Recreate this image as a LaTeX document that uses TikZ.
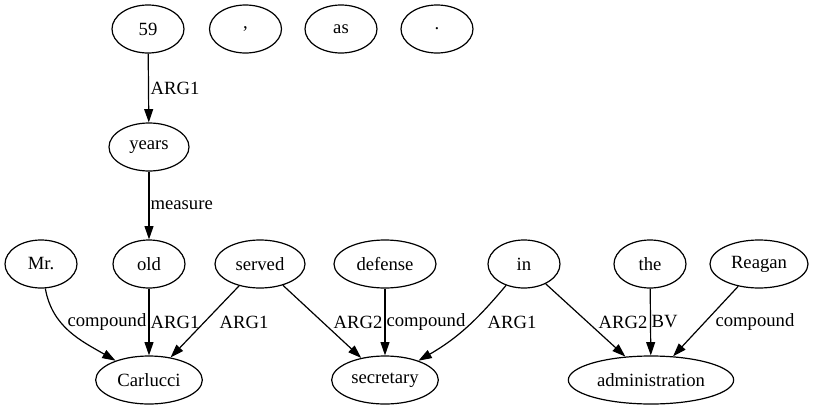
\documentclass[tikz,border=0pt]{standalone}
\usepackage{fontspec}
\setmainfont{Liberation Serif}
\usepackage{tikz}
\usetikzlibrary{shapes.geometric, arrows.meta}

\begin{document}
\begin{tikzpicture}[x=0.75pt, y=-0.75pt,
    tok/.style={ellipse, draw, line width=0.9pt, inner sep=0pt,
                minimum width=54pt, minimum height=36pt, font=\fontsize{14}{16}\selectfont},
    rel/.style={line width=0.9pt, -{Triangle[length=10pt, width=6.7pt]}},
    lbl/.style={anchor=west, inner sep=0pt, font=\fontsize{14}{16}\selectfont}]
    \useasboundingbox (0,0) rectangle (815,411);

    %% top row
    \node[tok] (n59)    at (148,29)   {59};
    \node[tok] (comma)  at (245.5,29) {,};
    \node[tok] (as)     at (341,29)   {as};
    \node[tok] (period) at (437,29)   {.};

    \node[tok, minimum width=60pt] (years) at (149,147) {years};

    %% third row
    \node[tok] (mr)  at (41,264)  {Mr.};
    \node[tok] (old) at (149,264) {old};
    \node[tok, minimum width=67.5pt] (served)  at (260,264) {served};
    \node[tok, minimum width=76.5pt] (defense) at (385,264) {defense};
    \node[tok] (in)  at (524,264) {in};
    \node[tok] (the) at (650,264) {the};
    \node[tok, minimum width=73.5pt] (reagan) at (759,264) {Reagan};

    %% bottom row
    \node[tok, minimum width=80pt]  (carlucci)  at (149,380) {Carlucci};
    \node[tok, minimum width=80pt]  (secretary) at (385,380) {secretary};
    \node[tok, minimum width=124pt] (admin)     at (651,380) {administration};

    %% edges
    \draw[rel] (n59) -- (years) node[lbl] at (150,88) {ARG1};
    \draw[rel] (years) -- (old) node[lbl] at (150,205) {measure};
    \draw[rel] (mr) to[out=-80, in=150] (carlucci) node[lbl] at (67,322) {compound};
    \draw[rel] (old) -- (carlucci) node[lbl] at (150,322) {ARG1};
    \draw[rel] (served) -- (carlucci) node[lbl] at (219,322) {ARG1};
    \draw[rel] (served) -- (secretary) node[lbl] at (333,322) {ARG2};
    \draw[rel] (defense) -- (secretary) node[lbl] at (386,322) {compound};
    \draw[rel] (in) to[out=-130, in=30] (secretary) node[lbl] at (487,322) {ARG1};
    \draw[rel] (in) -- (admin) node[lbl] at (598,322) {ARG2};
    \draw[rel] (the) -- (admin) node[lbl] at (651,322) {BV};
    \draw[rel] (reagan) -- (admin) node[lbl] at (715,322) {compound};
\end{tikzpicture}
\end{document}
